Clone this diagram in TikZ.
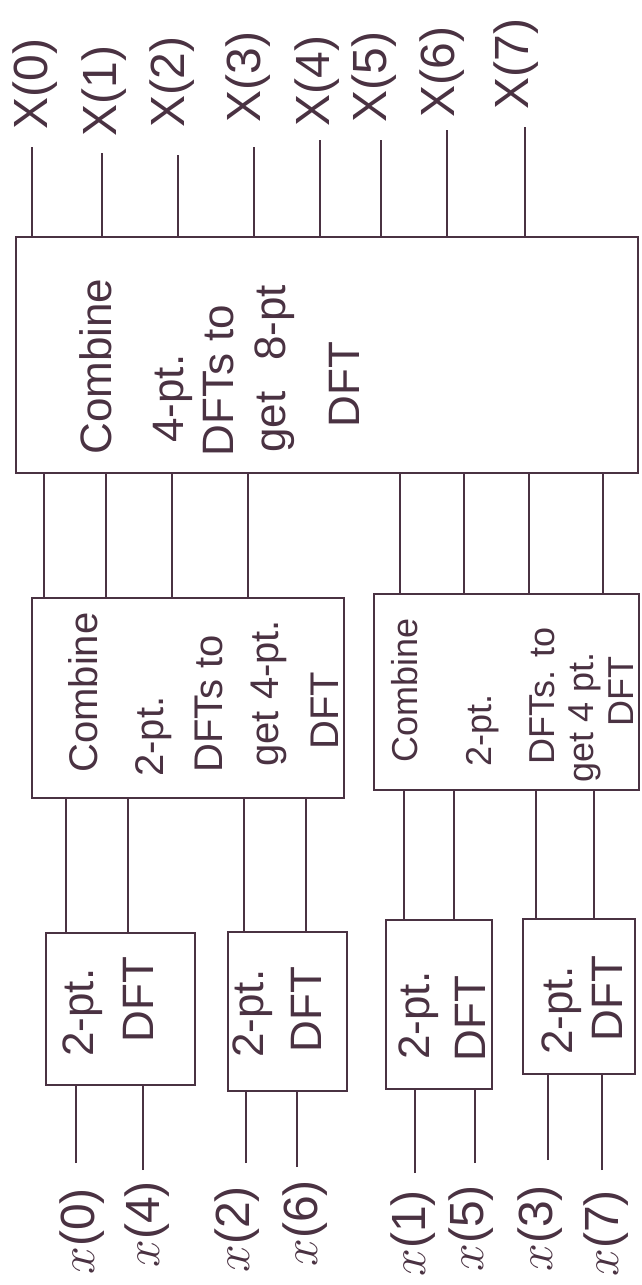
\documentclass[tikz,border=0pt]{standalone}
\usepackage{fontspec}
\setmainfont{Liberation Sans}
\usetikzlibrary{fit}
\definecolor{ink}{RGB}{74,50,66}
\begin{document}
\begin{tikzpicture}[x=0.5pt,y=-0.5pt,
  wire/.style={draw=ink,line width=0.9pt},
  blk/.style={draw=ink,line width=0.9pt,inner sep=0pt},
  txt/.style={rotate=90,anchor=west,inner sep=0pt,text=ink},
  bigt/.style={txt,font=\fontsize{22}{26}\selectfont,text height=16pt,text depth=5pt},
  midt/.style={txt,font=\fontsize{20}{24}\selectfont,text height=14.5pt,text depth=4.5pt},
  midrt/.style={txt,font=\fontsize{18}{22}\selectfont,text height=13pt,text depth=4pt},
  smt/.style={txt,font=\fontsize{22}{26}\selectfont,text height=16pt,text depth=5pt},
  lbl/.style={txt,font=\fontsize{24}{28}\selectfont,text height=17.5pt,text depth=5.5pt}]
\useasboundingbox (0,0) rectangle (642,1285);
% boxes
\node[blk,fit={(16,237) (638,473)}] (big) {};
\node[blk,fit={(32,598) (344,798)}] (ml) {};
\node[blk,fit={(374,594) (639,790)}] (mr) {};
\node[blk,fit={(46,933) (195,1085)}] (s1) {};
\node[blk,fit={(228,932) (347,1091)}] (s2) {};
\node[blk,fit={(386,920) (492,1089)}] (s3) {};
\node[blk,fit={(523,919) (635,1074)}] (s4) {};
% big box text
\node[bigt] (b1) at (100,455) {Combine};
\node[bigt] (b2) at (172,443) {4-pt.};
\node[bigt] (b3) at (222,457) {DFTs to};
\node[bigt] (b4) at (274,453) {get\hspace{0.7em}8-pt};
\node[bigt] (b5) at (348,428) {DFT};
% middle left text
\node[midt] (l1) at (87,773) {Combine};
\node[midt] (l2) at (153,777) {2-pt.};
\node[midt] (l3) at (212,773) {DFTs to};
\node[midt] (l4) at (268,767) {get 4-pt.};
\node[midt] (l5) at (328,750) {DFT};
% middle right text
\node[midrt] (r1) at (408,763) {Combine};
\node[midrt] (r2) at (482,767) {2-pt.};
\node[midrt] (r3) at (545,765) {DFTs. to};
\node[midrt] (r4) at (584,783) {get 4 pt.};
\node[midrt] (r5) at (624,727) {DFT};
% small box text
\node[smt] (p1a) at (82,1057) {2-pt.};
\node[smt] (p1b) at (142,1043) {DFT};
\node[smt] (p2a) at (252,1058) {2-pt.};
\node[smt] (p2b) at (310,1053) {DFT};
\node[smt] (p3a) at (418,1060) {2-pt.};
\node[smt] (p3b) at (474,1062) {DFT};
\node[smt] (p4a) at (561,1055) {2-pt.};
\node[smt] (p4b) at (611,1042) {DFT};
% output labels
\node[lbl] (o0) at (35,130) {X(0)};
\node[lbl] (o1) at (104,137) {X(1)};
\node[lbl] (o2) at (172,128) {X(2)};
\node[lbl] (o3) at (248,123) {X(3)};
\node[lbl] (o4) at (317,127) {X(4)};
\node[lbl] (o5) at (374,123) {X(5)};
\node[lbl] (o6) at (442,118) {X(6)};
\node[lbl] (o7) at (516,110) {X(7)};
% input labels
\node[lbl] (i0) at (82,1275) {$x$(0)};
\node[lbl] (i4) at (147,1268) {$x$(4)};
\node[lbl] (i2) at (237,1273) {$x$(2)};
\node[lbl] (i6) at (305,1267) {$x$(6)};
\node[lbl] (i1) at (413,1277) {$x$(1)};
\node[lbl] (i5) at (471,1272) {$x$(5)};
\node[lbl] (i3) at (540,1272) {$x$(3)};
\node[lbl] (i7) at (606,1277) {$x$(7)};
% output wires
\foreach \x/\y [count=\i] in {32/147,102/153,178/155,254/147,320/140,381/140,447/130,525/127}{
  \coordinate (q\i) at (\x,\y);
  \draw[wire] (q\i) -- (q\i |- big.north);}
% big box to middle boxes
\foreach \x [count=\i] in {44,106,172,248}{
  \coordinate (a\i) at (\x,0);
  \draw[wire] (a\i |- big.south) -- (a\i |- ml.north);}
\foreach \x [count=\i] in {400,464,529,603}{
  \coordinate (b\i) at (\x,0);
  \draw[wire] (b\i |- big.south) -- (b\i |- mr.north);}
% middle boxes to small boxes
\foreach \x/\s/\m [count=\i] in {66/s1/ml,128/s1/ml,244/s2/ml,306/s2/ml,404/s3/mr,454/s3/mr,536/s4/mr,594/s4/mr}{
  \coordinate (c\i) at (\x,0);
  \draw[wire] (c\i |- \m.south) -- (c\i |- \s.north);}
% input wires
\foreach \x/\y/\s [count=\i] in {76/1163/s1,143/1170/s1,246/1163/s2,297/1167/s2,415/1173/s3,475/1163/s3,548/1160/s4,602/1170/s4}{
  \coordinate (d\i) at (\x,\y);
  \draw[wire] (d\i) -- (d\i |- \s.south);}
\end{tikzpicture}
\end{document}
